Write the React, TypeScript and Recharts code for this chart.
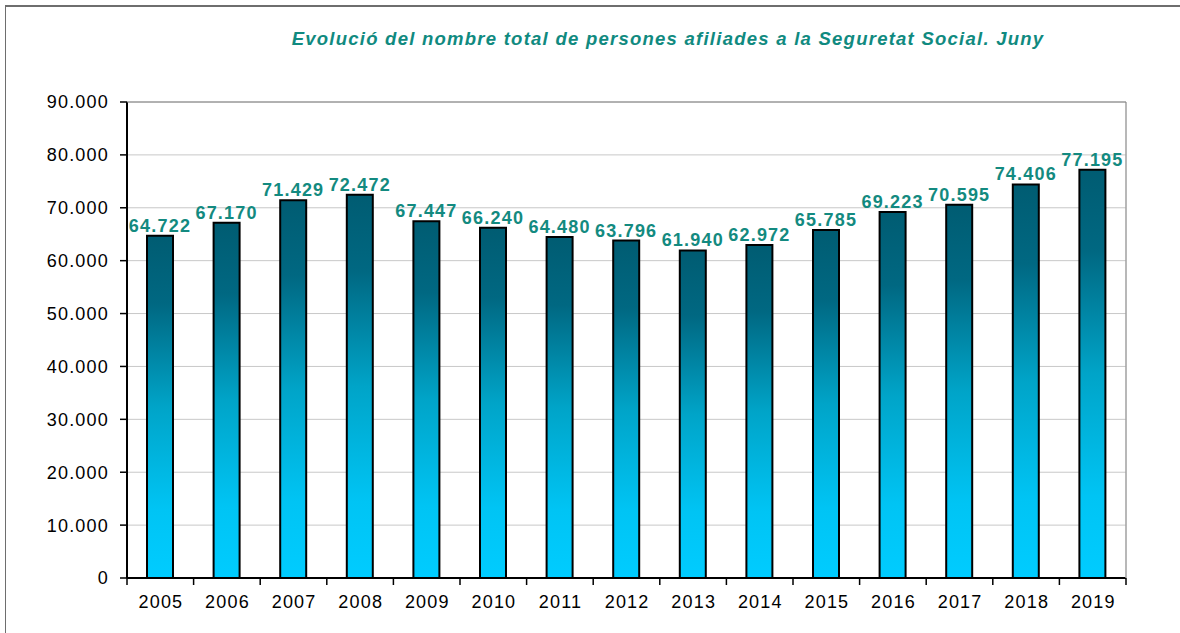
import React from "react";
import { BarChart, Bar, XAxis, YAxis, CartesianGrid, LabelList } from "recharts";

const years = ["2005", "2006", "2007", "2008", "2009", "2010", "2011", "2012", "2013", "2014", "2015", "2016", "2017", "2018", "2019"];
const affiliates = [64722, 67170, 71429, 72472, 67447, 66240, 64480, 63796, 61940, 62972, 65785, 69223, 70595, 74406, 77195];
const yTicks = [0, 10000, 20000, 30000, 40000, 50000, 60000, 70000, 80000, 90000];
const title = "Evolució del nombre total de persones afiliades a la Seguretat Social. Juny";

const data = years.map((y, i) => ({ year: y, value: affiliates[i] }));

const fmt = (v: number) => {
  const s = String(Math.round(v));
  return s.replace(/\B(?=(\d{3})+(?!\d))/g, ".");
};

const W = 1180;
const H = 633;
const M = { top: 102, right: 54, bottom: 25, left: 0 };
const YW = 127;
const plotW = W - M.left - M.right - YW;
const step = plotW / years.length;
const FONT = "Liberation Sans, Arial, sans-serif";

const XTick = (props: any) => {
  const { x, y, payload, index } = props;
  const lx = x - step / 2;
  const rx = x + step / 2;
  return (
    <g>
      <line x1={lx} y1={y - 8} x2={lx} y2={y - 1} stroke="#000" strokeWidth={1.5} />
      {index === years.length - 1 && (
        <line x1={rx} y1={y - 8} x2={rx} y2={y - 1} stroke="#000" strokeWidth={1.5} />
      )}
      <text x={x + 0.6} y={y + 22} textAnchor="middle" fontSize={18} letterSpacing={1.2} fill="#000" fontFamily={FONT}>
        {payload.value}
      </text>
    </g>
  );
};

export default function App() {
  return (
    <div style={{ position: "absolute", left: 0, top: 0, width: W, height: H, background: "#fff", overflow: "hidden" }}>
      <div
        style={{
          position: "absolute",
          left: 5,
          top: 5,
          width: W,
          height: H,
          borderTop: "2px solid #6e6e6e",
          borderLeft: "1.5px solid #6e6e6e",
          boxSizing: "border-box",
        }}
      />
      <div
        style={{
          position: "absolute",
          left: 0,
          top: 28,
          width: 1336,
          textAlign: "center",
          fontFamily: FONT,
          fontWeight: "bold",
          fontStyle: "italic",
          fontSize: 18.5,
          letterSpacing: 1.25,
          color: "#108a80",
          whiteSpace: "nowrap",
        }}
      >
        {title}
      </div>
      <div style={{ position: "absolute", left: 0, top: 0 }}>
        <BarChart width={W} height={H} data={data} margin={M} barSize={26}>
          <defs>
            <linearGradient id="barGrad" x1="0" y1="0" x2="0" y2="1">
              <stop offset="0%" stopColor="#005c72" />
              <stop offset="20%" stopColor="#006882" />
              <stop offset="50%" stopColor="#00a4c8" />
              <stop offset="80%" stopColor="#00c4f4" />
              <stop offset="100%" stopColor="#00ccff" />
            </linearGradient>
          </defs>
          <CartesianGrid vertical={false} stroke="#c8c8c8" strokeWidth={1} />
          <XAxis
            dataKey="year"
            tick={<XTick />}
            tickLine={false}
            axisLine={{ stroke: "#000", strokeWidth: 2 }}
            interval={0}
            height={30}
          />
          <YAxis
            width={YW}
            domain={[0, 90000]}
            ticks={yTicks}
            tickFormatter={fmt}
            tickSize={7}
            tickMargin={11}
            tickLine={{ stroke: "#000", strokeWidth: 1.5 }}
            axisLine={{ stroke: "#000", strokeWidth: 2 }}
            tick={{ fill: "#000", fontSize: 18, letterSpacing: 1.2, fontFamily: FONT }}
            interval={0}
          />
          <Bar dataKey="value" fill="url(#barGrad)" stroke="#000" strokeWidth={2} isAnimationActive={false}>
            <LabelList
              dataKey="value"
              position="top"
              offset={4}
              formatter={(v: any) => fmt(Number(v))}
              style={{ fill: "#138a80", fontSize: 18, letterSpacing: 1.2, fontWeight: "bold", fontFamily: FONT }}
            />
          </Bar>
        </BarChart>
      </div>
      <svg style={{ position: "absolute", left: 0, top: 0, pointerEvents: "none" }} width={W} height={H}>
        <line x1={1126} y1={102} x2={1126} y2={578} stroke="#a0a0a0" strokeWidth={1.5} />
        <line x1={127} y1={102} x2={1126} y2={102} stroke="#808080" strokeWidth={1} />
      </svg>
    </div>
  );
}
